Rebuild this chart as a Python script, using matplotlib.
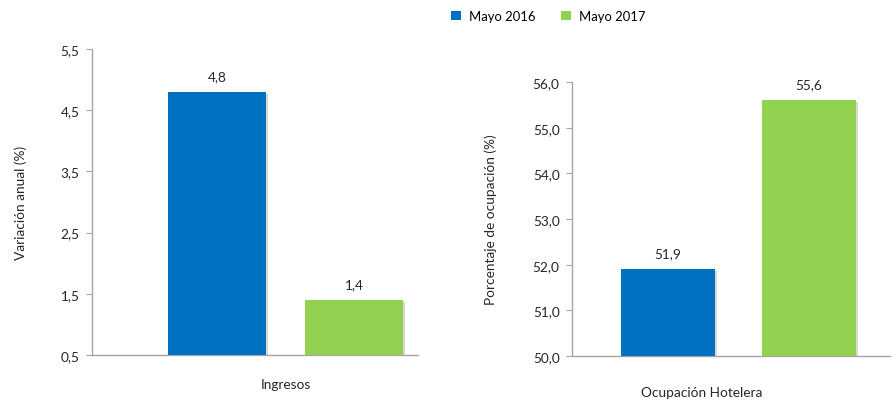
import matplotlib
matplotlib.use("Agg")
import matplotlib.pyplot as plt
import matplotlib.patheffects as pe
from matplotlib.patches import Patch

plt.rcParams['font.family'] = ['Lato', 'DejaVu Sans']

series = ["Mayo 2016", "Mayo 2017"]
colors = ["#0070C0", "#92D050"]

left_category = "Ingresos"
left_values = [4.8, 1.4]
left_ticks = [0.5, 1.5, 2.5, 3.5, 4.5, 5.5]

right_category = "Ocupación Hotelera"
right_values = [51.9, 55.6]
right_ticks = [50.0, 51.0, 52.0, 53.0, 54.0, 55.0, 56.0]

FS = 9.8
TXT = "#262626"

fig = plt.figure(figsize=(8.92, 4.02), dpi=100)

def fmt(v, dec=1):
    return f"{v:.{dec}f}".replace(".", ",")

def style(ax, ticks, ylabel):
    for s in ["top", "right"]:
        ax.spines[s].set_visible(False)
    for s in ["left", "bottom"]:
        ax.spines[s].set_color("#A6A6A6")
        ax.spines[s].set_linewidth(1.0)
    ax.set_yticks(ticks)
    ax.set_yticklabels([fmt(t) for t in ticks], fontsize=FS, color=TXT)
    ax.set_ylim(ticks[0], ticks[-1])
    ax.tick_params(axis="y", length=4, color="#A6A6A6", pad=5)
    ax.tick_params(axis="x", length=0)
    ax.set_xticks([])
    ax.set_ylabel(ylabel, fontsize=FS, color=TXT)

shadow = [pe.SimplePatchShadow(offset=(1.5, -1.5), shadow_rgbFace="#7F7F7F", alpha=0.3), pe.Normal()]

# Left panel
ax1 = fig.add_axes([92/892, 46/402, 326/892, 306/402])
style(ax1, left_ticks, "Variación anual (%)")
offs = [-0.5, 0.5]
base = left_ticks[0]
for o, v, c in zip(offs, left_values, colors):
    b = ax1.bar(o, v - base, bottom=base, width=0.715, color=c, zorder=3)
    b[0].set_path_effects(shadow)
    ax1.annotate(fmt(v), (o, v), xytext=(0, 7), textcoords="offset points",
                 ha="center", va="bottom", fontsize=FS, color=TXT)
ax1.set_xlim(-1.412, 0.967)
ax1.set_xlabel(left_category, fontsize=FS, color=TXT)
ax1.xaxis.set_label_coords((285.5 - 92) / 326, -0.075)
ax1.yaxis.set_label_coords(-0.20, 0.5)

# Right panel
ax2 = fig.add_axes([572/892, 45/402, 318/892, 274/402])
style(ax2, right_ticks, "Porcentaje de ocupación (%)")
base = right_ticks[0]
for o, v, c in zip(offs, right_values, colors):
    b = ax2.bar(o, v - base, bottom=base, width=0.667, color=c, zorder=3)
    b[0].set_path_effects(shadow)
    ax2.annotate(fmt(v), (o, v), xytext=(0, 7), textcoords="offset points",
                 ha="center", va="bottom", fontsize=FS, color=TXT)
ax2.set_xlim(-1.181, 1.074)
ax2.set_xlabel(right_category, fontsize=FS, color=TXT)
ax2.xaxis.set_label_coords((702 - 572) / 318, -0.11)
ax2.yaxis.set_label_coords(-0.235, 0.5)

handles = [Patch(facecolor=c, edgecolor="none", label=s) for s, c in zip(series, colors)]
fig.legend(handles=handles, loc="center", bbox_to_anchor=(548/892, 1 - 17/402), ncol=2,
           frameon=False, fontsize=9.4, handlelength=0.75, handleheight=0.75,
           handletextpad=0.6, columnspacing=2.0)

fig.savefig("out.png", dpi=100)
